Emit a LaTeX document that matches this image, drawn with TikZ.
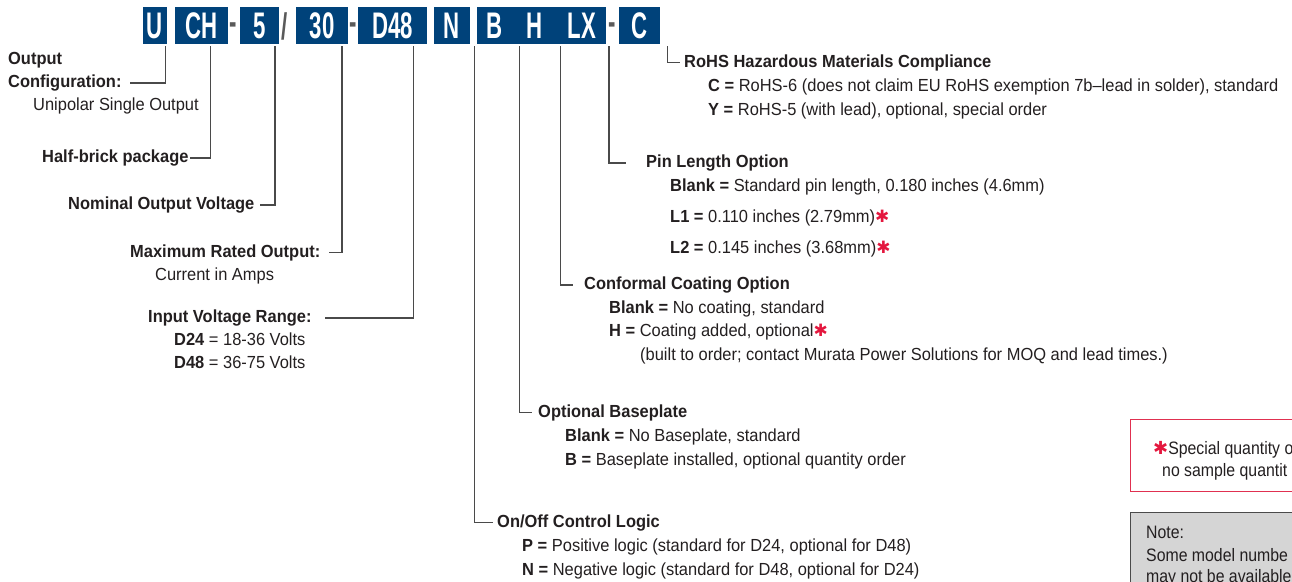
\documentclass[tikz,border=0pt]{standalone}
\usepackage{fontspec}
\setmainfont[FakeStretch=0.94]{Liberation Sans}
\newfontfamily\boxfont[FakeStretch=0.6]{Liberation Sans}
\newfontfamily\condfont[FakeStretch=0.88]{Liberation Sans}
\newfontfamily\starfont{DejaVu Sans}
\definecolor{boxblue}{RGB}{0,66,122}
\definecolor{txt}{HTML}{231F20}
\definecolor{linecol}{HTML}{4A4A4A}
\definecolor{sepgray}{HTML}{5A5A5A}
\definecolor{starred}{HTML}{E4173E}
\definecolor{framered}{HTML}{E03050}
\definecolor{notefill}{HTML}{D5D5D5}
\newcommand{\rstar}{{\starfont\color{starred}\fontsize{17}{17}\selectfont ✱}}
\begin{document}
\begin{tikzpicture}[x=1pt,y=-1pt,
  blubox/.style={fill=boxblue, text=white, font=\boxfont\bfseries\fontsize{37}{37}\selectfont, minimum height=37pt, inner sep=0pt},
  boxletter/.style={text=white, font=\boxfont\bfseries\fontsize{37}{37}\selectfont, inner sep=0pt},
  sepmark/.style={text=sepgray, font=\boxfont\bfseries\fontsize{37}{37}\selectfont, inner sep=0pt},
  lbl/.style={anchor=base west, inner sep=0pt, text=txt, font=\fontsize{17.5}{20}\selectfont},
  blbl/.style={lbl, font=\bfseries\fontsize{17.5}{20}\selectfont},
  cnote/.style={anchor=base west, inner sep=0pt, text=txt, font=\condfont\fontsize{18}{20}\selectfont},
  conn/.style={draw=linecol, line width=1.4pt}]
\useasboundingbox (0,0) rectangle (1292,581);

% code boxes
\node[blubox, minimum width=24pt] (bU) at (154.7,25.5) {U};
\node[blubox, minimum width=53pt] (bCH) at (201.5,25.5) {CH};
\node[sepmark] (s1) at (233.5,29) {-};
\node[blubox, minimum width=39pt] (b5) at (259.5,25.5) {5};
\node[sepmark] (s2) at (285,26) {/};
\node[blubox, minimum width=52pt] (b30) at (322,25.5) {30};
\node[sepmark] (s3) at (353,29) {-};
\node[blubox, minimum width=69pt] (bD) at (392.5,25.5) {D48};
\node[blubox, minimum width=36pt] (bN) at (452,25.5) {N};
\node[blubox, minimum width=129pt] (bO) at (541.5,25.5) {};
\node[boxletter] (lB) at (495,25.5) {B};
\node[boxletter] (lH) at (534.5,25.5) {H};
\node[boxletter] (lLX) at (582,25.5) {LX};
\node[sepmark] (s4) at (612,29) {-};
\node[blubox, minimum width=41pt] (bC) at (639.5,25.5) {C};

% left labels
\node[blbl] (out) at (8,64.3) {Output};
\node[blbl] (cfg) at (8,87.3) {Configuration:};
\node[lbl] (uni) at (33,110.5) {Unipolar Single Output};
\node[blbl] (half) at (42,162.3) {Half-brick package};
\node[blbl] (nom) at (68,209.3) {Nominal Output Voltage};
\node[blbl] (max) at (130,257.3) {Maximum Rated Output:};
\node[lbl] (cur) at (155,280.5) {Current in Amps};
\node[blbl] (inp) at (148,322.3) {Input Voltage Range:};
\node[lbl] (d24) at (174,345.5) {\textbf{D24} = 18-36 Volts};
\node[lbl] (d48) at (174,368.5) {\textbf{D48} = 36-75 Volts};

% right labels
\node[blbl] (rohs) at (684,67.3) {RoHS Hazardous Materials Compliance};
\node[lbl] (rc) at (708,91.3) {\textbf{C =} RoHS-6 (does not claim EU RoHS exemption 7b–lead in solder), standard};
\node[lbl] (ry) at (708,115.3) {\textbf{Y =} RoHS-5 (with lead), optional, special order};
\node[blbl] (pin) at (646,167.6) {Pin Length Option};
\node[lbl] (pb) at (670,191) {\textbf{Blank =} Standard pin length, 0.180 inches (4.6mm)};
\node[lbl] (pl1) at (670,222) {\textbf{L1 =} 0.110 inches (2.79mm)\rstar};
\node[lbl] (pl2) at (670,253) {\textbf{L2 =} 0.145 inches (3.68mm)\rstar};
\node[blbl] (coat) at (584,289.3) {Conformal Coating Option};
\node[lbl] (cb) at (609,313) {\textbf{Blank =} No coating, standard};
\node[lbl] (ch) at (609,336.5) {\textbf{H =} Coating added, optional\rstar};
\node[lbl] (cbt) at (640,360) {(built to order; contact Murata Power Solutions for MOQ and lead times.)};
\node[blbl] (base) at (538,417) {Optional Baseplate};
\node[lbl] (bb) at (565,441) {\textbf{Blank =} No Baseplate, standard};
\node[lbl] (bbb) at (565,465) {\textbf{B =} Baseplate installed, optional quantity order};
\node[blbl] (onoff) at (497,527) {On/Off Control Logic};
\node[lbl] (op) at (522,551) {\textbf{P =} Positive logic (standard for D24, optional for D48)};
\node[lbl] (on) at (522,575) {\textbf{N =} Negative logic (standard for D48, optional for D24)};

% connector tops
\coordinate (tU) at (165.7,46);
\coordinate (tCH) at (210.7,46);
\coordinate (t5) at (275,46);
\coordinate (t30) at (342,46);
\coordinate (tD) at (413.3,46);
\coordinate (tN) at (474.7,46);
\coordinate (tB) at (519.3,46);
\coordinate (tH) at (560.5,46);
\coordinate (tLX) at (609,46);
\coordinate (tC) at (667.3,46);

\draw[conn] (tU) |- ([xshift=8pt]cfg.east);
\draw[conn] (tCH) |- ([xshift=1pt]half.east);
\draw[conn] (t5) |- ([xshift=5pt]nom.east);
\draw[conn] (t30) |- ([xshift=9pt]max.east);
\draw[conn] (tD) |- ([xshift=13pt]inp.east);
\draw[conn] (tC) |- ([xshift=-4pt]rohs.west);
\draw[conn] (tLX) |- ([xshift=-20pt]pin.west);
\draw[conn] (tH) |- ([xshift=-11pt]coat.west);
\draw[conn] (tB) |- ([xshift=-6pt]base.west);
\draw[conn] (tN) |- ([xshift=-4pt]onoff.west);

% right-hand boxes (cut off by the page edge)
\begin{scope}
\clip (0,0) rectangle (1292,581);
\node[draw=framered, line width=1.2pt, anchor=north west, minimum width=200pt, minimum height=72pt, inner sep=0pt] (spq) at (1130,419) {};
\node[cnote] (spq1) at (1153,454) {{\starfont\color{starred}\fontsize{18}{18}\selectfont ✱}Special quantity o};
\node[cnote] (spq2) at (1162,476) {no sample quantit};
\node[draw=linecol, fill=notefill, line width=1.2pt, anchor=north west, minimum width=200pt, minimum height=90pt, inner sep=0pt] (note) at (1130,512) {};
\node[cnote] (note1) at (1146,538) {Note:};
\node[cnote] (note2) at (1146,561) {Some model numbe};
\node[cnote] (note3) at (1146,582) {may not be available};
\end{scope}
\end{tikzpicture}
\end{document}
